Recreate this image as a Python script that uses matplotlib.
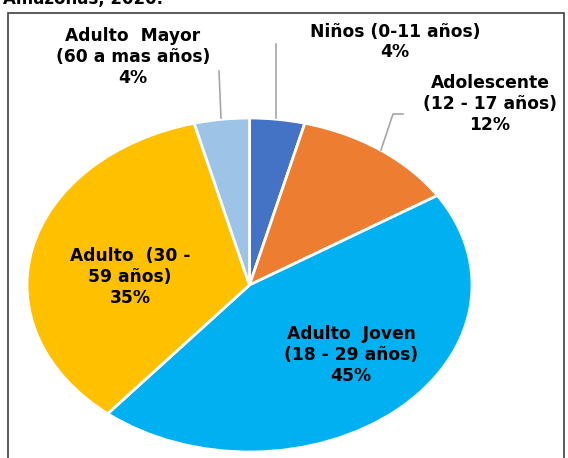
import numpy as np
import matplotlib
matplotlib.use('Agg')
import matplotlib.pyplot as plt
from matplotlib.patches import Rectangle

# --- данные ---
categories = ['Niños (0-11 años)', 'Adolescente\n(12 - 17 años)', 'Adulto  Joven\n(18 - 29 años)',
              'Adulto  (30 -\n59 años)', 'Adulto  Mayor\n(60 a mas años)']
values = [4, 12, 45, 35, 4]
colors = ['#4472C4', '#ED7D31', '#00B0F0', '#FFC000', '#9DC3E6']
title = 'Amazonas, 2020.'

W, H = 568, 458
plt.rcParams['font.family'] = ['DejaVu Sans']

fig = plt.figure(figsize=(W / 100, H / 100), dpi=100)

# эллипс круговой диаграммы: x 27..472, y 118..452 (пиксели)
px0, px1, py0, py1 = 27, 472, 118, 452
ax = fig.add_axes([px0 / W, (H - py1) / H, (px1 - px0) / W, (py1 - py0) / H])
ax.pie(values, colors=colors, startangle=90, counterclock=False,
       wedgeprops=dict(edgecolor='white', linewidth=2))
ax.set_aspect('auto')
ax.set_xlim(-1, 1)
ax.set_ylim(-1, 1)
ax.axis('off')

cx, cy = (px0 + px1) / 2, (py0 + py1) / 2
rx, ry = (px1 - px0) / 2, (py1 - py0) / 2


def to_data(px, py):
    return (px - cx) / rx, (cy - py) / ry


# позиции подписей (пиксели)
label_pos = [(395, 42), (490, 104), (351, 355), (130, 277), (133, 57)]
for i, (lab, v) in enumerate(zip(categories, values)):
    x, y = to_data(*label_pos[i])
    ax.text(x, y, f'{lab}\n{v}%', ha='center', va='center', fontsize=12.3,
            fontweight='bold', linespacing=1.2, clip_on=False)

# выноски
leaders = [[(276, 44), (276, 118)],
           [(403, 114), (393, 114), (381, 150)],
           [(219, 71), (221, 118)]]
for pts in leaders:
    xs, ys = zip(*[to_data(*p) for p in pts])
    ax.plot(xs, ys, color='#A6A6A6', lw=1.2, clip_on=False)

# рамка
fig.patches.append(Rectangle((8 / W, -0.05), (564 - 8) / W, 1.05 - 13 / H,
                             transform=fig.transFigure, fill=False,
                             edgecolor='#404040', lw=1.2))

fig.text(3 / W, 1 - 4 / H, title, ha='left', va='baseline', fontsize=12,
         fontweight='bold')

fig.savefig('out.png', dpi=100)
